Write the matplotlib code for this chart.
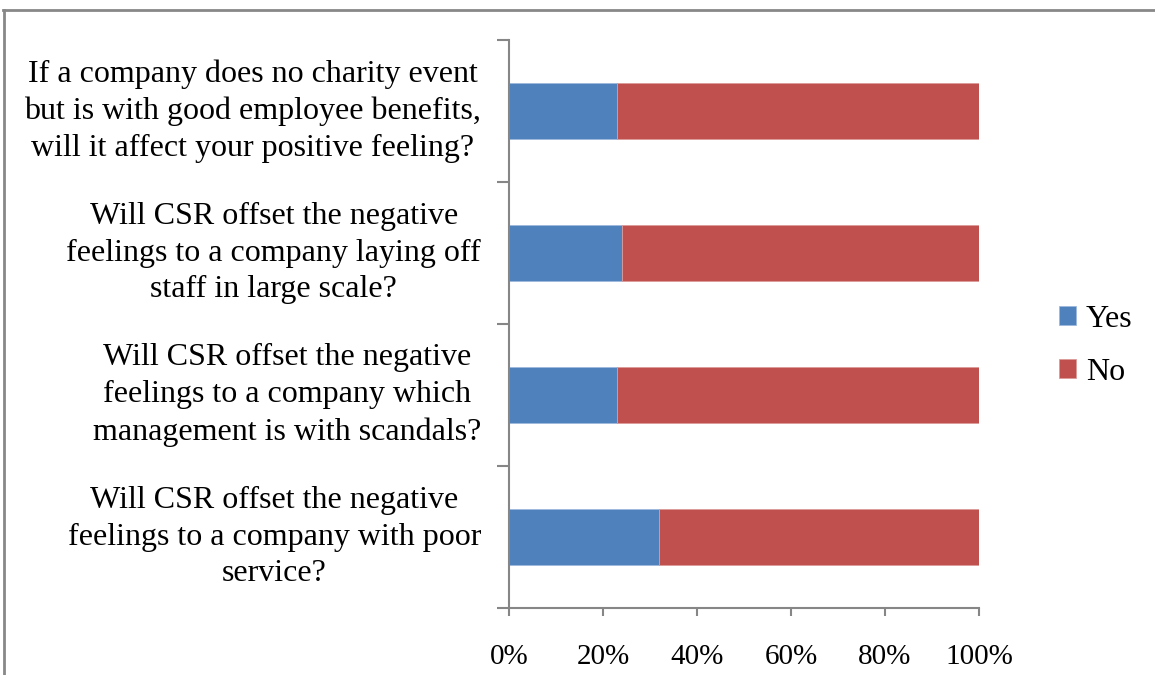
import matplotlib
matplotlib.use("Agg")
import matplotlib.pyplot as plt
from matplotlib.lines import Line2D
from matplotlib.ticker import PercentFormatter

questions = [
    "Will CSR offset the negative\nfeelings to a company with poor\nservice?",
    "Will CSR offset the negative\nfeelings to a company which\nmanagement is with scandals?",
    "Will CSR offset the negative\nfeelings to a company laying off\nstaff in large scale?",
    "If a company does no charity event\nbut is with good employee benefits,\nwill it affect your positive feeling?",
]
yes_pct = [32, 23, 24, 23]
no_pct = [68, 77, 76, 77]

blue = "#4F81BD"
red = "#C0504D"
axis_grey = "#868686"

plt.rcParams["font.family"] = ["Liberation Serif", "DejaVu Serif"]

fig = plt.figure(figsize=(11.55, 6.75), dpi=100)
ax = fig.add_axes([509 / 1155, 1 - 608 / 675, 470 / 1155, 568 / 675])

pos = list(range(len(questions)))
ax.barh(pos, yes_pct, height=0.4, color=blue, label="Yes", edgecolor="#9db8dc", linewidth=0.6)
ax.barh(pos, no_pct, left=yes_pct, height=0.4, color=red, label="No", edgecolor="#dc9a98", linewidth=0.6)

ax.set_xlim(0, 100)
ax.set_ylim(-0.5, len(questions) - 0.5)
ax.set_xticks([0, 20, 40, 60, 80, 100])
ax.xaxis.set_major_formatter(PercentFormatter(decimals=0))

# boundary ticks on the y axis, labels drawn as text blocks
ax.set_yticks([p - 0.5 for p in pos] + [len(questions) - 0.5])
ax.set_yticklabels([])
ax.tick_params(axis="y", length=9, width=1.5, color=axis_grey)
ax.tick_params(axis="x", length=6, width=1.5, color=axis_grey, labelsize=21, pad=20)
for p, q in zip(pos, questions):
    ax.annotate(q, xy=(0, p), xycoords=("axes fraction", "data"), xytext=(-20, 0),
                textcoords="offset points", ha="right", va="center", multialignment="center",
                fontsize=23, linespacing=1.35)

for side in ["top", "right"]:
    ax.spines[side].set_visible(False)
for side in ["left", "bottom"]:
    ax.spines[side].set_color(axis_grey)
    ax.spines[side].set_linewidth(1.5)

fig.legend(loc="center left", bbox_to_anchor=(1030 / 1155, 1 - 346 / 675),
           frameon=False, fontsize=23, handlelength=0.55, handleheight=0.55, handletextpad=0.3,
           labelspacing=0.75)

# page border around the figure
fig.add_artist(Line2D([3 / 1155, 1], [1 - 10 / 675, 1 - 10 / 675], color="#888888", lw=2,
                      transform=fig.transFigure))
fig.add_artist(Line2D([4 / 1155, 4 / 1155], [0, 1 - 10 / 675], color="#888888", lw=2,
                      transform=fig.transFigure))

fig.savefig("out.png", dpi=100)
